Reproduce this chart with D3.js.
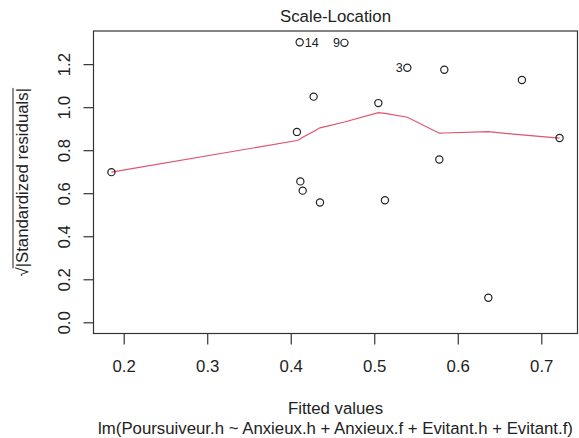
<!DOCTYPE html>
<html>
<head>
<meta charset="utf-8">
<script src="https://cdn.jsdelivr.net/npm/d3@7"></script>
<style>
  body { margin: 0; background: #fff; }
  text { font-family: "Liberation Sans", Arial, sans-serif; fill: #222; }
</style>
</head>
<body>
<svg></svg>
<script>
const width = 579;
const height = 438;

// data
const fitted = [0.1853, 0.4074, 0.4107, 0.4115, 0.4143, 0.4274, 0.4350, 0.4643,
                0.5049, 0.5128, 0.5396, 0.5779, 0.5839, 0.6366, 0.6768, 0.7219];
const sqrtRes = [0.698, 0.885, 1.302, 0.655, 0.612, 1.049, 0.557, 1.299,
                 1.019, 0.567, 1.183, 0.757, 1.174, 0.114, 1.126, 0.857];
const smooth = [0.698, 0.845, 0.850, 0.853, 0.860, 0.887, 0.904, 0.931,
                0.975, 0.971, 0.953, 0.879, 0.880, 0.886, 0.871, 0.856];
const labelIdx = [2, 7, 10];
const labelText = ["14", "9", "3"];
const xTicks = [0.2, 0.3, 0.4, 0.5, 0.6, 0.7];
const yTicks = [0.0, 0.2, 0.4, 0.6, 0.8, 1.0, 1.2];

const pLeft = 93.5, pRight = 577.5, pTop = 31, pBottom = 333.5;
const fs = 16.8;

let svg = d3.select("svg")
    .attr("width", width)
    .attr("height", height);

// R style: 4% extension of the data range
let xr = d3.extent(fitted);
let xpad = (xr[1] - xr[0]) * 0.04;
let x = d3.scaleLinear()
    .domain([xr[0] - xpad, xr[1] + xpad])
    .range([pLeft, pRight]);

let ymax = d3.max(sqrtRes);
let y = d3.scaleLinear()
    .domain([-ymax * 0.04, ymax * 1.04])
    .range([pBottom, pTop]);

// box
svg.append("rect")
    .attr("x", pLeft)
    .attr("y", pTop)
    .attr("width", pRight - pLeft)
    .attr("height", pBottom - pTop)
    .style("fill", "none")
    .style("stroke", "#333")
    .style("stroke-width", 1.2);

// x axis
let gx = svg.append("g")
    .attr("transform", `translate(0,${pBottom})`)
    .call(d3.axisBottom(x).tickValues(xTicks).tickSize(11).tickFormat(d3.format(".1f")));
gx.select(".domain").remove();
gx.selectAll("line").style("stroke", "#333").style("stroke-width", 1.2);
gx.selectAll("text")
    .attr("y", 38.5)
    .attr("dy", 0)
    .style("font-size", fs + "px")
    .style("font-family", "'Liberation Sans', Arial, sans-serif")
    .style("fill", "#222");

// y axis
let gy = svg.append("g")
    .attr("transform", `translate(${pLeft},0)`)
    .call(d3.axisLeft(y).tickValues(yTicks).tickSize(10).tickFormat(d3.format(".1f")));
gy.select(".domain").remove();
gy.selectAll("line").style("stroke", "#333").style("stroke-width", 1.2);
gy.selectAll("text")
    .attr("x", 0)
    .attr("dy", 0)
    .attr("text-anchor", "middle")
    .attr("transform", "translate(-23.5,0) rotate(-90)")
    .style("font-size", fs + "px")
    .style("font-family", "'Liberation Sans', Arial, sans-serif")
    .style("fill", "#222");

// smooth line
let line = d3.line()
    .x((d, i) => x(fitted[i]))
    .y(d => y(d));
svg.append("path")
    .attr("d", line(smooth))
    .style("fill", "none")
    .style("stroke", "#DF536B")
    .style("stroke-width", 1.2);

// points
svg.append("g")
    .selectAll("circle")
    .data(sqrtRes)
    .join("circle")
    .attr("cx", (d, i) => x(fitted[i]))
    .attr("cy", d => y(d))
    .attr("r", 3.6)
    .style("fill", "none")
    .style("stroke", "#222")
    .style("stroke-width", 1.2);

// id labels
let xmid = d3.mean(x.domain());
svg.append("g")
    .selectAll("text")
    .data(labelIdx)
    .join("text")
    .attr("x", i => fitted[i] < xmid ? x(fitted[i]) + 5 : x(fitted[i]) - 4.5)
    .attr("y", i => y(sqrtRes[i]))
    .attr("dy", "0.36em")
    .attr("text-anchor", i => fitted[i] < xmid ? "start" : "end")
    .style("font-size", (fs * 0.75) + "px")
    .text((i, k) => labelText[k]);

// titles
let cx = (pLeft + pRight) / 2;
svg.append("text")
    .attr("x", cx)
    .attr("y", 22)
    .attr("text-anchor", "middle")
    .style("font-size", fs + "px")
    .text("Scale-Location");

svg.append("text")
    .attr("x", cx)
    .attr("y", 413.5)
    .attr("text-anchor", "middle")
    .style("font-size", fs + "px")
    .text("Fitted values");

svg.append("text")
    .attr("x", cx)
    .attr("y", 433.5)
    .attr("text-anchor", "middle")
    .style("font-size", fs + "px")
    .text("lm(Poursuiveur.h ~ Anxieux.h + Anxieux.f + Evitant.h + Evitant.f)");

// y label: sqrt sign with overline
let yl = svg.append("g")
    .attr("transform", `translate(28,${(pTop + pBottom) / 2}) rotate(-90)`);
let sq = yl.append("text")
    .style("font-size", fs + "px")
    .text("\u221A");
let rest = yl.append("text")
    .style("font-size", fs + "px")
    .text("|Standardized residuals|");
let w1 = sq.node().getComputedTextLength();
let w2 = rest.node().getComputedTextLength();
let x0 = -(w1 + w2) / 2;
sq.attr("x", x0);
rest.attr("x", x0 + w1);
yl.append("line")
    .attr("x1", x0 + w1 - 1)
    .attr("x2", x0 + w1 + w2)
    .attr("y1", -15)
    .attr("y2", -15)
    .style("stroke", "#222")
    .style("stroke-width", 1);
</script>
</body>
</html>
